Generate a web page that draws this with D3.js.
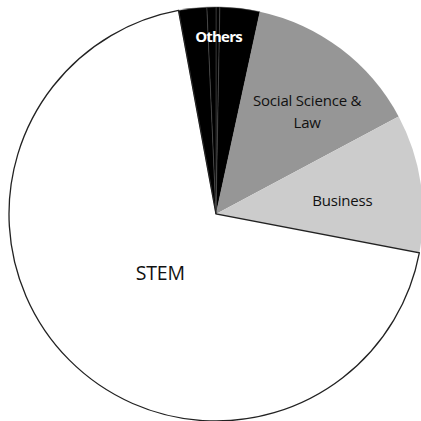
<!DOCTYPE html>
<html>
<head>
<meta charset="utf-8">
<script src="https://cdn.jsdelivr.net/npm/d3@7"></script>
<style>
  html, body { margin: 0; padding: 0; background: #fff; }
  svg { display: block; }
</style>
</head>
<body>
<svg id="chart" width="421" height="421"></svg>
<script>
// data (share of graduates, %), in drawing order clockwise from 12 o'clock
var categories = ["Others (a)", "Others (b)", "Social Science & Law", "Business", "STEM", "Others (c)", "Others (d)"];
var shares     = [0.3, 3.1, 13.8, 10.8, 69.1, 2.2, 0.7];
var groups     = ["Others", "Others", "Social Science & Law", "Business", "STEM", "Others", "Others"];

// label text lines per group
var labelGroups = ["Others", "Social Science & Law", "Business", "STEM"];
var labelLines  = [["Others"], ["Social Science &", "Law"], ["Business"], ["STEM"]];

var width = 421, height = 421;
var cx = 216, cy = 214, radius = 207;

var color = d3.scaleOrdinal()
  .domain(["Others", "Social Science & Law", "Business", "STEM"])
  .range(["#000000", "#969696", "#cccccc", "#ffffff"]);

var svg = d3.select("#chart");
var g = svg.append("g").attr("transform", "translate(" + cx + "," + cy + ")");

var pie = d3.pie().sort(null).value(function(d) { return d.value; });
var arc = d3.arc().innerRadius(0).outerRadius(radius);

var rows = categories.map(function(c, i) {
  return { name: c, value: shares[i], group: groups[i] };
});
var arcs = pie(rows);

g.selectAll("path.slice")
  .data(arcs)
  .enter().append("path")
  .attr("class", "slice")
  .attr("d", arc)
  .attr("fill", function(d) { return color(d.data.group); })
  .attr("stroke", function(d) { return d.data.group == "Others" ? "#555" : "none"; })
  .attr("stroke-width", 0.5);

// STEM slice gets the dark outline, drawn last so it sits on top
g.selectAll("path.outline")
  .data(arcs.filter(function(d) { return d.data.group == "STEM"; }))
  .enter().append("path")
  .attr("class", "outline")
  .attr("d", arc)
  .attr("fill", "none")
  .attr("stroke", "#222")
  .attr("stroke-width", 1.3);

// label placement (angle in degrees from 12 o'clock, distance from centre)
var labelPos = {
  "Others": { a: 0.8, r: 177 },
  "Social Science & Law": { a: 41.7, r: 137 },
  "Business": { a: 84, r: 127 },
  "STEM": { a: 223.5, r: 81 }
};

labelGroups.forEach(function(name, i) {
  var p = labelPos[name];
  var rad = p.a * Math.PI / 180;
  var x = Math.sin(rad) * p.r, y = -Math.cos(rad) * p.r;
  var lines = labelLines[i];
  var isOthers = name == "Others";
  var fs = name == "STEM" ? 19.5 : (isOthers ? 15 : 15);
  var lh = 22;
  var t = g.append("text")
    .attr("text-anchor", "middle")
    .attr("font-family", "'Open Sans', 'DejaVu Sans', sans-serif")
    .attr("font-size", fs)
    .attr("font-weight", isOthers ? "bold" : "normal")
    .attr("fill", isOthers ? "#fff" : "#111")
    .style("letter-spacing", isOthers ? "-0.8px" : "-0.2px");
  lines.forEach(function(line, j) {
    t.append("tspan")
      .attr("x", x)
      .attr("y", y + (j - (lines.length - 1) / 2) * lh)
      .attr("dy", "0.35em")
      .text(line);
  });
});
</script>
</body>
</html>
